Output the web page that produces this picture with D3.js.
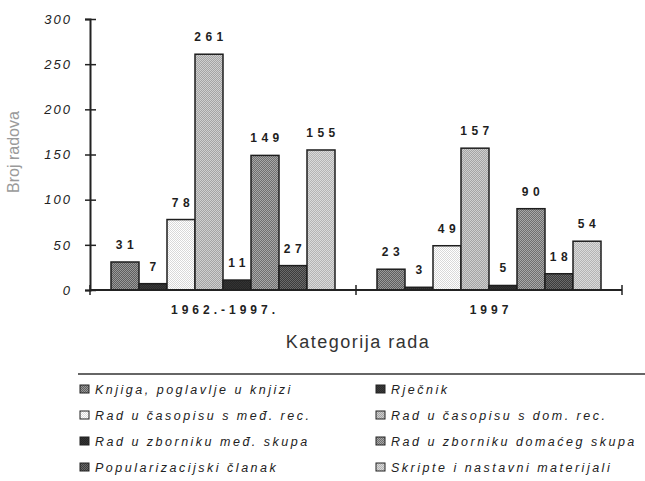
<!doctype html>
<html lang="hr">
<head>
  <meta charset="UTF-8">
  <title>Broj radova po kategoriji</title>
  <style type="text/css">
    * { padding: 0; margin: 0; }
    body { background: #fff; }
    svg { font-family: Arial, "Liberation Sans", sans-serif; }
  </style>
  <script src="https://cdn.jsdelivr.net/npm/d3@7"></script>
</head>
<body>
  <svg width="645" height="481"></svg>
  <script>
    // podaci
    var groups = ["1962.-1997.", "1997"];
    var series = [
      "Knjiga, poglavlje u knjizi",
      "Rječnik",
      "Rad u časopisu s međ. rec.",
      "Rad u časopisu s dom. rec.",
      "Rad u zborniku međ. skupa",
      "Rad u zborniku domaćeg skupa",
      "Popularizacijski članak",
      "Skripte i nastavni materijali"
    ];
    var valuesAll = [31, 7, 78, 261, 11, 149, 27, 155];
    var values1997 = [23, 3, 49, 157, 5, 90, 18, 54];
    var yTicks = [0, 50, 100, 150, 200, 250, 300];

    // rasterske ispune (dvije nijanse sive)
    var shades = [
      ["#5e5e5e", "#9a9a9a"],
      ["#2b2b2b", "#3a3a3a"],
      ["#ffffff", "#d8d8d8"],
      ["#a4a4a4", "#cfcfcf"],
      ["#262626", "#333333"],
      ["#6f6f6f", "#a8a8a8"],
      ["#3c3c3c", "#6a6a6a"],
      ["#b4b4b4", "#dadada"]
    ];

    var rows = groups.map(function (g, i) {
      var vals = i === 0 ? valuesAll : values1997;
      return { group: g, values: series.map(function (s, j) { return { key: s, idx: j, value: vals[j] }; }) };
    });

    var svg = d3.select("svg");
    var defs = svg.append("defs");
    shades.forEach(function (c, i) {
      var p = defs.append("pattern")
        .attr("id", "pat" + i)
        .attr("width", 2).attr("height", 2)
        .attr("patternUnits", "userSpaceOnUse");
      p.append("rect").attr("width", 2).attr("height", 2).attr("fill", c[0]);
      p.append("rect").attr("width", 1).attr("height", 1).attr("fill", c[1]);
      p.append("rect").attr("x", 1).attr("y", 1).attr("width", 1).attr("height", 1).attr("fill", c[1]);
    });

    var x0 = d3.scaleBand().domain(groups).range([90, 622]);
    var x1 = d3.scaleBand().domain(series).range([0, x0.bandwidth()])
      .paddingInner(0).paddingOuter(0.75);
    var y = d3.scaleLinear().domain([0, 300]).range([290, 19]);

    // stupci
    var gg = svg.append("g").selectAll("g")
      .data(rows)
      .enter()
      .append("g")
      .attr("transform", function (d) { return "translate(" + x0(d.group) + ",0)"; });

    gg.selectAll("rect")
      .data(function (d) { return d.values; })
      .enter()
      .append("rect")
      .attr("x", function (d) { return x1(d.key); })
      .attr("y", function (d) { return y(d.value); })
      .attr("width", x1.bandwidth())
      .attr("height", function (d) { return y(0) - y(d.value); })
      .attr("fill", function (d) { return "url(#pat" + d.idx + ")"; })
      .attr("stroke", "#1e1e1e")
      .attr("stroke-width", 1.5);

    // oznake vrijednosti
    gg.selectAll("text")
      .data(function (d) { return d.values; })
      .enter()
      .append("text")
      .attr("x", function (d) { return x1(d.key) + x1.bandwidth() / 2 + 2; })
      .attr("y", function (d) { return y(d.value) - 13; })
      .attr("text-anchor", "middle")
      .attr("font-size", 12)
      .attr("font-weight", "bold")
      .attr("letter-spacing", 4.5)
      .attr("fill", "#1e1e1e")
      .text(function (d) { return d.value; });

    // os y
    var yAxis = d3.axisLeft(y).tickValues(yTicks).tickSize(5).tickPadding(15);
    var ya = svg.append("g")
      .attr("transform", "translate(90,0)")
      .call(yAxis);
    ya.select(".domain").attr("stroke", "#222").attr("stroke-width", 2);
    ya.selectAll(".tick line").attr("x1", 6).attr("x2", -5).attr("stroke", "#222").attr("stroke-width", 1.5);
    ya.selectAll(".tick text")
      .attr("font-size", 13)
      .attr("font-style", "italic")
      .attr("letter-spacing", 2)
      .attr("dx", 2)
      .attr("fill", "#222");

    // os x
    var xa = svg.append("g").attr("transform", "translate(0," + y(0) + ")");
    xa.append("line")
      .attr("x1", x0.range()[0]).attr("x2", x0.range()[1])
      .attr("stroke", "#222").attr("stroke-width", 2);
    xa.selectAll("line.tk")
      .data(groups.concat(["end"]))
      .enter()
      .append("line")
      .attr("class", "tk")
      .attr("x1", function (d) { return d === "end" ? x0.range()[1] : x0(d); })
      .attr("x2", function (d) { return d === "end" ? x0.range()[1] : x0(d); })
      .attr("y1", -5).attr("y2", 5)
      .attr("stroke", "#222").attr("stroke-width", 1.5);
    xa.selectAll("text")
      .data(groups)
      .enter()
      .append("text")
      .attr("x", function (d) { return x0(d) + x0.bandwidth() / 2 + 2; })
      .attr("y", 24)
      .attr("text-anchor", "middle")
      .attr("font-size", 12)
      .attr("font-weight", "bold")
      .attr("letter-spacing", 4)
      .attr("fill", "#222")
      .text(function (d) { return d; });

    // naslovi osi
    svg.append("text")
      .attr("x", 358).attr("y", 348)
      .attr("text-anchor", "middle")
      .attr("font-size", 18)
      .attr("letter-spacing", 1.5)
      .attr("fill", "#333")
      .text("Kategorija rada");

    svg.append("text")
      .attr("transform", "translate(19,152) rotate(-90)")
      .attr("text-anchor", "middle")
      .attr("font-size", 16)
      .attr("fill", "#9a9a9a")
      .text("Broj radova");

    // legenda
    var lg = svg.append("g");
    lg.append("line")
      .attr("x1", 78).attr("x2", 645).attr("y1", 374).attr("y2", 374)
      .attr("stroke", "#333").attr("stroke-width", 1.5);
    var item = lg.selectAll("g.item")
      .data(series)
      .enter()
      .append("g")
      .attr("class", "item")
      .attr("transform", function (d, i) {
        return "translate(" + (i % 2 === 0 ? 80 : 376) + "," + (389 + Math.floor(i / 2) * 26) + ")";
      });
    item.append("rect")
      .attr("x", 0).attr("y", -4)
      .attr("width", 9).attr("height", 8)
      .attr("fill", function (d, i) { return "url(#pat" + i + ")"; })
      .attr("stroke", "#222").attr("stroke-width", 1);
    item.append("text")
      .attr("x", 15).attr("y", 4.5)
      .attr("font-size", 12.5)
      .attr("font-style", "italic")
      .attr("letter-spacing", 2.5)
      .attr("fill", "#222")
      .text(function (d) { return d; });
  </script>
</body>
</html>
